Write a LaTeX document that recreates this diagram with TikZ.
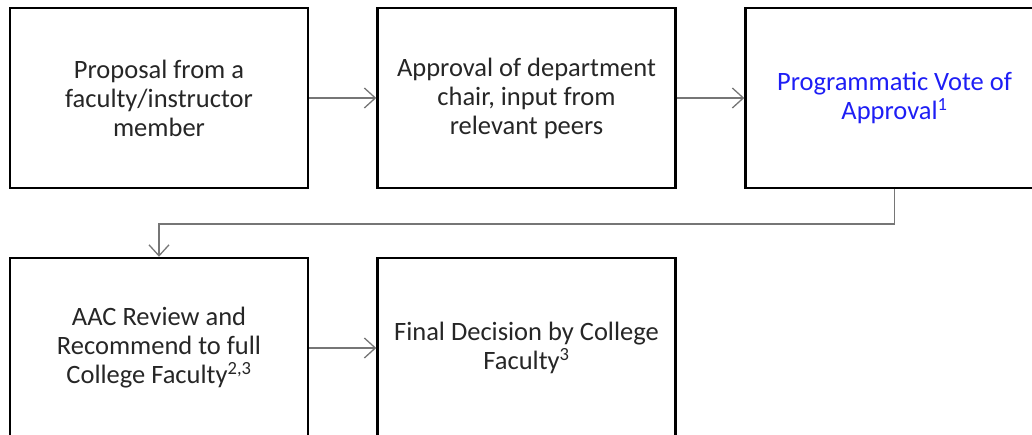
\documentclass[tikz,border=0pt]{standalone}
\usepackage{fontspec}
\setmainfont{Carlito}
\usetikzlibrary{arrows.meta}
\definecolor{linegray}{RGB}{118,118,118}
\definecolor{txtgray}{RGB}{38,38,38}
\definecolor{vblue}{RGB}{30,30,245}
\begin{document}
\begin{tikzpicture}[x=1pt,y=1pt,
  stepbox/.style={draw=black,line width=2.4pt,minimum width=298pt,minimum height=180pt,
    inner sep=0pt,align=center,text=txtgray,font=\fontsize{26.5}{29}\selectfont},
  conn/.style={draw=linegray,line width=1.5pt,-{Straight Barb[length=11pt,width=20pt,line width=1.3pt]}}]
\useasboundingbox (0,0) rectangle (1032,435);
\clip (0,0) rectangle (1032,435);
\node[stepbox] (a) at (159,337) {Proposal from a\\faculty/instructor\\member};
\node[stepbox] (b) at (526.5,337) {Approval of department\\chair, input from\\relevant peers};
\node[stepbox,text=vblue] (c) at (894.5,337) {Programmatic Vote of\\Approval\textsuperscript{1}};
\node[stepbox] (d) at (159,87) {AAC Review and\\Recommend to full\\College Faculty\textsuperscript{2,3}};
\node[stepbox] (e) at (526.5,87) {Final Decision by College\\Faculty\textsuperscript{3}};
\draw[conn] (a) -- (b);
\draw[conn] (b) -- (c);
\draw[conn] (c.south) -- ++(0,-35) -| (d.north);
\draw[conn] (d) -- (e);
\end{tikzpicture}
\end{document}
